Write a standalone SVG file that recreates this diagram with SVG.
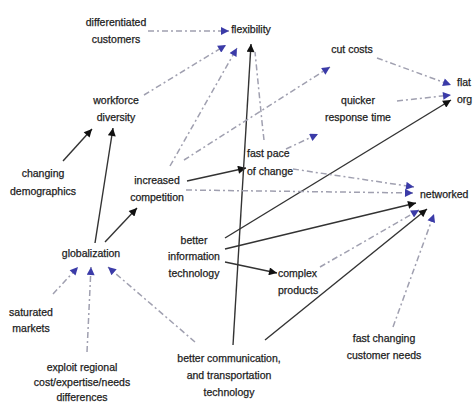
<svg xmlns="http://www.w3.org/2000/svg" width="473" height="403" viewBox="0 0 473 403">
<style>
text{font-family:"Liberation Sans",Arial,sans-serif;font-size:10.5px;fill:#1c1c1c;stroke:#1c1c1c;stroke-width:0.25;text-anchor:middle}
.s{stroke:#333;stroke-width:1.4;fill:none}
.d{stroke:#a0a0b0;stroke-width:1.5;fill:none;stroke-dasharray:6 3 2 3}
</style>
<defs>
<marker id="ab" viewBox="0 0 10 10" refX="10" refY="5" markerWidth="9" markerHeight="8" markerUnits="userSpaceOnUse" orient="auto"><path d="M0,0L10,5L0,10z" fill="#111"/></marker>
<marker id="au" viewBox="0 0 10 10" refX="10" refY="5" markerWidth="9" markerHeight="8" markerUnits="userSpaceOnUse" orient="auto"><path d="M0,0L10,5L0,10z" fill="#3b3ba8"/></marker>
</defs>
<rect width="473" height="403" fill="#fff"/>
<g id="connectors">
<line class="s" x1="63" y1="161" x2="92" y2="129" marker-end="url(#ab)"/>
<line class="s" x1="95" y1="243" x2="113" y2="128" marker-end="url(#ab)"/>
<line class="s" x1="105" y1="242" x2="137" y2="208" marker-end="url(#ab)"/>
<line class="s" x1="187" y1="181" x2="246" y2="168" marker-end="url(#ab)"/>
<line class="s" x1="233" y1="345" x2="251" y2="44" marker-end="url(#ab)"/>
<line class="s" x1="225" y1="238" x2="451" y2="100" marker-end="url(#ab)"/>
<line class="s" x1="225" y1="249" x2="416" y2="203" marker-end="url(#ab)"/>
<line class="s" x1="225" y1="262" x2="277" y2="273" marker-end="url(#ab)"/>
<line class="s" x1="265" y1="340" x2="427" y2="209" marker-end="url(#ab)"/>
<line class="d" x1="148" y1="31" x2="229" y2="31" marker-end="url(#au)"/>
<line class="d" x1="144" y1="95" x2="226" y2="45" marker-end="url(#au)"/>
<line class="d" x1="170" y1="166" x2="237" y2="48" marker-end="url(#au)"/>
<line class="d" x1="184" y1="160" x2="330" y2="67" marker-end="url(#au)"/>
<polyline class="d" points="264,140 262,122 255,52"/>
<line class="d" x1="286" y1="149" x2="318" y2="134" marker-end="url(#au)"/>
<line class="d" x1="377" y1="58" x2="451" y2="85" marker-end="url(#au)"/>
<line class="d" x1="397" y1="101" x2="451" y2="95" marker-end="url(#au)"/>
<line class="d" x1="293" y1="169" x2="414" y2="187" marker-end="url(#au)"/>
<line class="d" x1="186" y1="190" x2="413" y2="193" marker-end="url(#au)"/>
<line class="d" x1="320" y1="267" x2="419" y2="210" marker-end="url(#au)"/>
<line class="d" x1="393" y1="327" x2="434" y2="214" marker-end="url(#au)"/>
<line class="d" x1="53" y1="294" x2="78" y2="267" marker-end="url(#au)"/>
<line class="d" x1="87" y1="352" x2="91" y2="267" marker-end="url(#au)"/>
<line class="d" x1="195" y1="342" x2="108" y2="267" marker-end="url(#au)"/>
</g>
<g id="n-differentiated"><text x="116" y="26">differentiated</text><text x="116" y="43">customers</text></g>
<g id="n-flexibility"><text x="251" y="33">flexibility</text></g>
<g id="n-cutcosts"><text x="352" y="53">cut costs</text></g>
<g id="n-flatorg"><text x="457" y="86" style="text-anchor:start">flat</text><text x="457" y="103" style="text-anchor:start">org</text></g>
<g id="n-workforce"><text x="116" y="104">workforce</text><text x="116" y="121">diversity</text></g>
<g id="n-quicker"><text x="358" y="104">quicker</text><text x="358" y="121">response time</text></g>
<g id="n-changing"><text x="43" y="177">changing</text><text x="43" y="195">demographics</text></g>
<g id="n-increased"><text x="157" y="184">increased</text><text x="157" y="201">competition</text></g>
<g id="n-fastpace"><text x="247" y="157" style="text-anchor:start">fast pace</text><text x="247" y="175" style="text-anchor:start">of change</text></g>
<g id="n-networked"><text x="420" y="198" style="text-anchor:start">networked</text></g>
<g id="n-globalization"><text x="91" y="257">globalization</text></g>
<g id="n-betterinfo"><text x="194" y="244">better</text><text x="194" y="260">information</text><text x="194" y="277">technology</text></g>
<g id="n-complex"><text x="278" y="277" style="text-anchor:start">complex</text><text x="278" y="294" style="text-anchor:start">products</text></g>
<g id="n-saturated"><text x="31" y="316">saturated</text><text x="31" y="332">markets</text></g>
<g id="n-exploit"><text x="82" y="371">exploit regional</text><text x="82" y="386">cost/expertise/needs</text><text x="82" y="401">differences</text></g>
<g id="n-bettercomm"><text x="229" y="362">better communication,</text><text x="229" y="379">and transportation</text><text x="229" y="396">technology</text></g>
<g id="n-fastchanging"><text x="384" y="342">fast changing</text><text x="384" y="359">customer needs</text></g>
</svg>
